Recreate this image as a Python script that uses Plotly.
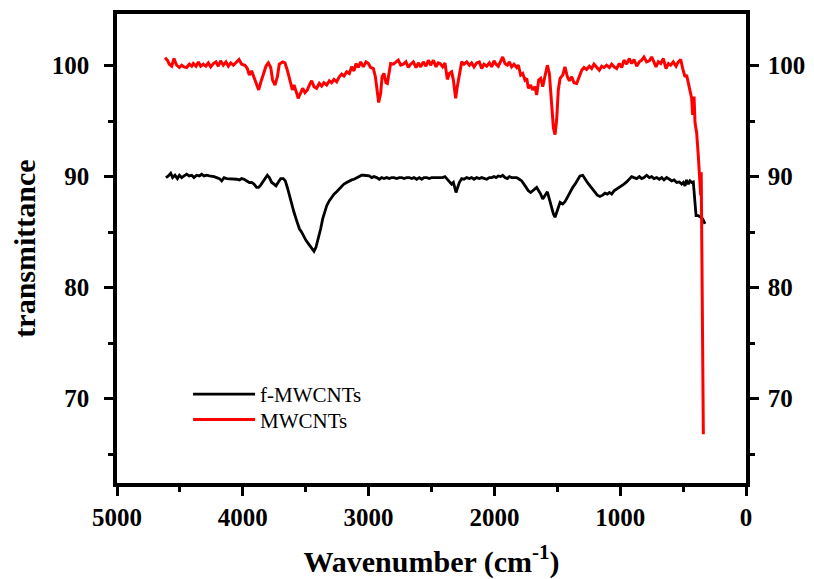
import plotly.graph_objects as go

# f-MWCNTs (black)
f_wn = [4611, 4592, 4573, 4558, 4539, 4520, 4504, 4486, 4467, 4446, 4425, 4406, 4388, 4367, 4345,
        4327, 4308, 4287, 4266, 4247, 4229, 4208, 4186, 4168, 4149, 4128, 4107, 4088, 4070, 4049,
        4027, 4009, 3990, 3969, 3948, 3929, 3911, 3890, 3874, 3858, 3842, 3823, 3805, 3789, 3770,
        3752, 3736, 3717, 3699, 3678, 3662, 3646, 3630, 3611, 3593, 3572, 3550, 3532, 3519, 3498,
        3479, 3461, 3445, 3434, 3418, 3400, 3381, 3365, 3347, 3333, 3312, 3294, 3275, 3254, 3233,
        3214, 3196, 3174, 3153, 3135, 3116, 3095, 3074, 3055, 3037, 3015, 2994, 2976, 2957, 2936,
        2915, 2896, 2878, 2856, 2835, 2817, 2798, 2777, 2756, 2737, 2719, 2697, 2676, 2658, 2639,
        2618, 2597, 2578, 2560, 2538, 2517, 2499, 2480, 2459, 2438, 2411, 2393, 2374, 2358, 2340,
        2326, 2313, 2305, 2295, 2279, 2260, 2242, 2220, 2199, 2181, 2162, 2141, 2120, 2101, 2083,
        2061, 2040, 2022, 2003, 1987, 1969, 1950, 1934, 1916, 1897, 1881, 1863, 1844, 1823, 1802,
        1783, 1765, 1749, 1730, 1712, 1696, 1677, 1664, 1648, 1632, 1616, 1598, 1579, 1563, 1547,
        1531, 1518, 1505, 1492, 1478, 1457, 1439, 1420, 1399, 1378, 1359, 1341, 1320, 1298, 1280,
        1261, 1240, 1219, 1200, 1182, 1161, 1139, 1121, 1102, 1086, 1068, 1049, 1028, 1007, 988,
        970, 949, 927, 909, 890, 869, 848, 829, 811, 790, 768, 750, 731, 710, 689,
        670, 652, 631, 609, 591, 572, 551, 530, 511, 498, 485, 472, 458, 445, 432,
        419, 413, 405, 397, 379, 366, 360, 344, 334, 326]
f_t = [89.91, 90.06, 90.30, 89.91, 90.12, 89.82, 90.12, 89.91, 90.06, 90.21, 90.06, 90.12, 89.91, 90.12, 90.06,
       90.21, 90.06, 90.12, 90.06, 90.06, 90.00, 89.91, 89.82, 89.61, 89.91, 89.82, 89.82, 89.76, 89.76, 89.76,
       89.70, 89.82, 89.76, 89.61, 89.47, 89.47, 89.32, 89.02, 89.02, 89.23, 89.52, 89.91, 90.12, 89.91, 89.47,
       89.32, 89.17, 89.52, 89.82, 89.82, 89.61, 89.02, 88.27, 87.53, 86.79, 86.04, 85.30, 85.00, 84.70, 84.26,
       83.96, 83.66, 83.36, 83.27, 83.66, 84.41, 85.30, 86.19, 86.93, 87.38, 87.83, 88.13, 88.42, 88.63, 88.87,
       89.17, 89.32, 89.47, 89.61, 89.70, 89.76, 89.91, 90.06, 90.12, 90.12, 90.06, 90.06, 89.91, 90.00, 89.91,
       89.76, 89.91, 89.82, 89.91, 89.82, 89.91, 89.91, 89.82, 89.91, 89.91, 89.82, 89.91, 89.91, 89.82, 89.91,
       89.76, 89.91, 89.76, 89.91, 89.91, 89.82, 89.91, 89.91, 89.91, 89.91, 89.91, 90.00, 89.76, 89.47, 89.32,
       89.47, 88.87, 88.57, 88.93, 89.47, 89.82, 89.76, 89.91, 89.82, 89.91, 89.76, 89.91, 89.82, 89.91, 89.82,
       89.76, 89.91, 89.91, 90.00, 89.91, 90.06, 90.00, 90.12, 89.91, 89.82, 90.00, 89.91, 89.91, 89.91, 89.76,
       89.61, 89.32, 89.02, 88.72, 88.57, 88.72, 88.87, 89.02, 88.72, 88.42, 87.98, 88.27, 88.63, 87.98, 87.23,
       86.64, 86.34, 86.79, 87.38, 87.68, 87.53, 87.74, 88.13, 88.63, 89.02, 89.32, 89.61, 90.06, 90.12, 89.76,
       89.47, 89.17, 88.87, 88.57, 88.33, 88.21, 88.33, 88.51, 88.42, 88.57, 88.42, 88.72, 88.87, 89.02, 89.23,
       89.32, 89.52, 89.82, 90.00, 89.91, 89.82, 90.00, 89.82, 89.91, 90.12, 89.91, 90.00, 89.82, 89.91, 89.76,
       89.91, 89.70, 89.91, 89.76, 89.61, 89.70, 89.47, 89.52, 89.32, 89.47, 89.17, 89.70, 89.32, 89.61, 89.47,
       89.52, 88.87, 87.98, 86.49, 86.49, 86.34, 86.34, 86.19, 85.89, 85.74]

# MWCNTs (red)
m_wn = [4618, 4600, 4584, 4565, 4547, 4526, 4504, 4486, 4467, 4446, 4425, 4406, 4393, 4372, 4353,
        4335, 4314, 4293, 4274, 4255, 4234, 4213, 4195, 4176, 4155, 4134, 4115, 4096, 4075, 4054,
        4030, 4009, 3983, 3964, 3948, 3930, 3911, 3890, 3874, 3858, 3837, 3816, 3797, 3778, 3763,
        3744, 3725, 3710, 3683, 3665, 3646, 3625, 3606, 3593, 3577, 3567, 3560, 3545, 3524, 3506,
        3487, 3471, 3453, 3434, 3413, 3392, 3373, 3355, 3333, 3312, 3294, 3275, 3254, 3233, 3214,
        3196, 3174, 3153, 3135, 3116, 3100, 3082, 3063, 3042, 3021, 3002, 2984, 2962, 2946, 2936,
        2920, 2904, 2893, 2878, 2862, 2851, 2835, 2825, 2803, 2782, 2764, 2745, 2724, 2703, 2684,
        2666, 2644, 2623, 2605, 2586, 2565, 2544, 2525, 2507, 2485, 2464, 2446, 2432, 2411, 2393,
        2374, 2358, 2340, 2326, 2308, 2295, 2279, 2260, 2242, 2220, 2199, 2181, 2162, 2141, 2120,
        2101, 2083, 2061, 2040, 2022, 2003, 1987, 1969, 1950, 1934, 1916, 1897, 1881, 1863, 1844,
        1823, 1810, 1791, 1775, 1757, 1743, 1730, 1712, 1696, 1677, 1664, 1648, 1632, 1616, 1598,
        1579, 1563, 1547, 1531, 1518, 1505, 1492, 1478, 1457, 1439, 1420, 1404, 1386, 1367, 1346,
        1325, 1306, 1288, 1267, 1245, 1227, 1208, 1187, 1166, 1147, 1129, 1108, 1086, 1068, 1049,
        1028, 1007, 988, 970, 949, 927, 909, 890, 869, 848, 829, 811, 790, 768, 750,
        731, 715, 697, 678, 657, 636, 617, 599, 578, 556, 538, 519, 503, 485, 472,
        458, 445, 432, 424, 413, 405, 392, 379, 371, 365, 360, 356, 352, 347, 343, 339]
m_t = [100.71, 100.48, 100.12, 99.94, 100.63, 100.03, 99.82, 100.03, 99.88, 99.82, 100.12, 99.94, 100.18, 99.94, 100.33,
       99.94, 100.12, 99.94, 100.24, 99.88, 100.18, 100.33, 99.94, 100.42, 100.03, 100.33, 99.94, 100.24, 100.03, 100.24,
       100.54, 100.12, 100.03, 99.73, 99.14, 99.52, 98.99, 98.24, 97.80, 98.45, 99.29, 99.94, 100.24, 99.82, 98.69,
       98.24, 98.99, 100.12, 100.33, 100.24, 99.58, 98.69, 97.80, 98.24, 97.80, 97.35, 97.05, 97.50, 97.95, 97.56,
       97.80, 98.24, 98.63, 98.10, 97.95, 98.39, 98.15, 98.45, 98.24, 98.63, 98.45, 98.75, 98.54, 98.99, 99.23,
       99.05, 99.43, 99.29, 99.88, 99.52, 100.18, 99.82, 100.33, 99.88, 100.33, 100.18, 99.82, 99.73, 98.99, 98.10,
       96.67, 97.50, 98.99, 99.29, 98.45, 98.39, 99.58, 100.18, 100.12, 100.33, 100.48, 100.03, 100.12, 100.33, 99.82,
       100.12, 100.33, 99.82, 100.24, 99.88, 100.33, 99.94, 100.48, 100.03, 100.48, 99.88, 100.24, 100.18, 99.88, 100.24,
       98.75, 99.29, 99.43, 98.69, 97.05, 98.10, 99.14, 100.33, 100.12, 100.33, 100.03, 100.24, 99.88, 100.24, 100.33,
       99.73, 100.12, 99.94, 100.24, 99.88, 100.42, 100.12, 99.94, 100.33, 100.77, 100.18, 100.03, 100.33, 99.88, 100.12,
       99.82, 100.03, 99.14, 99.29, 98.69, 98.84, 97.95, 98.24, 97.80, 98.10, 97.35, 98.69, 98.84, 98.10, 99.14,
       100.03, 99.29, 96.61, 94.38, 93.78, 95.12, 97.80, 98.84, 99.14, 99.88, 98.99, 98.63, 98.99, 98.45, 98.39,
       98.99, 99.58, 99.82, 99.64, 99.94, 99.73, 100.12, 99.82, 99.58, 99.94, 99.82, 100.03, 99.82, 100.12, 99.88,
       99.73, 100.18, 99.82, 100.48, 100.12, 100.63, 100.18, 100.54, 99.94, 100.33, 100.48, 100.77, 100.33, 100.42, 100.77,
       100.18, 99.88, 100.33, 100.18, 100.63, 99.73, 100.18, 100.03, 100.33, 99.94, 100.33, 100.54, 99.73, 98.99, 99.14,
       98.39, 97.50, 97.05, 95.56, 97.20, 94.82, 93.93, 91.85, 90.06, 89.00, 88.30, 90.40, 86.00, 78.00, 72.00, 66.80]

x_ticks = [5000, 4000, 3000, 2000, 1000, 0]
y_ticks = [70, 80, 90, 100]

FONT = "Liberation Serif"
tickfont = dict(family=FONT, size=25, color="black", weight="bold")
legfont = dict(family=FONT, size=21, color="black")

fig = go.Figure()
fig.add_trace(go.Scatter(x=f_wn, y=f_t, mode="lines", name="f-MWCNTs",
                         line=dict(color="black", width=2.8), yaxis="y", legend="legend"))
fig.add_trace(go.Scatter(x=m_wn, y=m_t, mode="lines", name="MWCNTs",
                         line=dict(color="#ff0000", width=3), yaxis="y2", legend="legend2"))

yrange = [62.41, 104.64]
common_y = dict(range=yrange, tickvals=y_ticks, ticktext=[str(v) for v in y_ticks],
                showgrid=False, zeroline=False, showline=True, linecolor="black", linewidth=3.5,
                ticks="outside", ticklen=9, tickwidth=3, tickcolor="black", tickfont=tickfont,
                minor=dict(dtick=5, tick0=0, ticks="outside", ticklen=5, tickwidth=3, tickcolor="black"),
                fixedrange=True)

leg_common = dict(xanchor="left", yanchor="top", bgcolor="rgba(0,0,0,0)", borderwidth=0,
                  font=legfont, itemwidth=62)

fig.update_layout(
    width=806, height=571,
    margin=dict(l=109, r=68, t=2, b=96),
    paper_bgcolor="white", plot_bgcolor="white",
    showlegend=True,
    legend=dict(x=0.113, y=0.2325, **leg_common),
    legend2=dict(x=0.113, y=0.1784, **leg_common),
    xaxis=dict(range=[5000, 0], tickvals=x_ticks, showgrid=False, zeroline=False,
               showline=True, mirror=True, linecolor="black", linewidth=3.5,
               ticks="outside", ticklen=9, tickwidth=3, tickcolor="black", tickfont=tickfont,
               ticklabelstandoff=0,
               minor=dict(dtick=500, tick0=0, ticks="outside", ticklen=5, tickwidth=3, tickcolor="black"),
               title=dict(text="Wavenumber (cm<sup>-1</sup>)",
                          font=dict(family=FONT, size=30, color="black", weight="bold"), standoff=25)),
    yaxis=dict(**common_y, side="left", ticklabelstandoff=10,
               title=dict(text="transmittance",
                          font=dict(family=FONT, size=30, color="black", weight="bold"), standoff=10)),
    yaxis2=dict(**common_y, side="right", overlaying="y", matches="y", ticklabelstandoff=4),
)

fig.write_html("out.html")
